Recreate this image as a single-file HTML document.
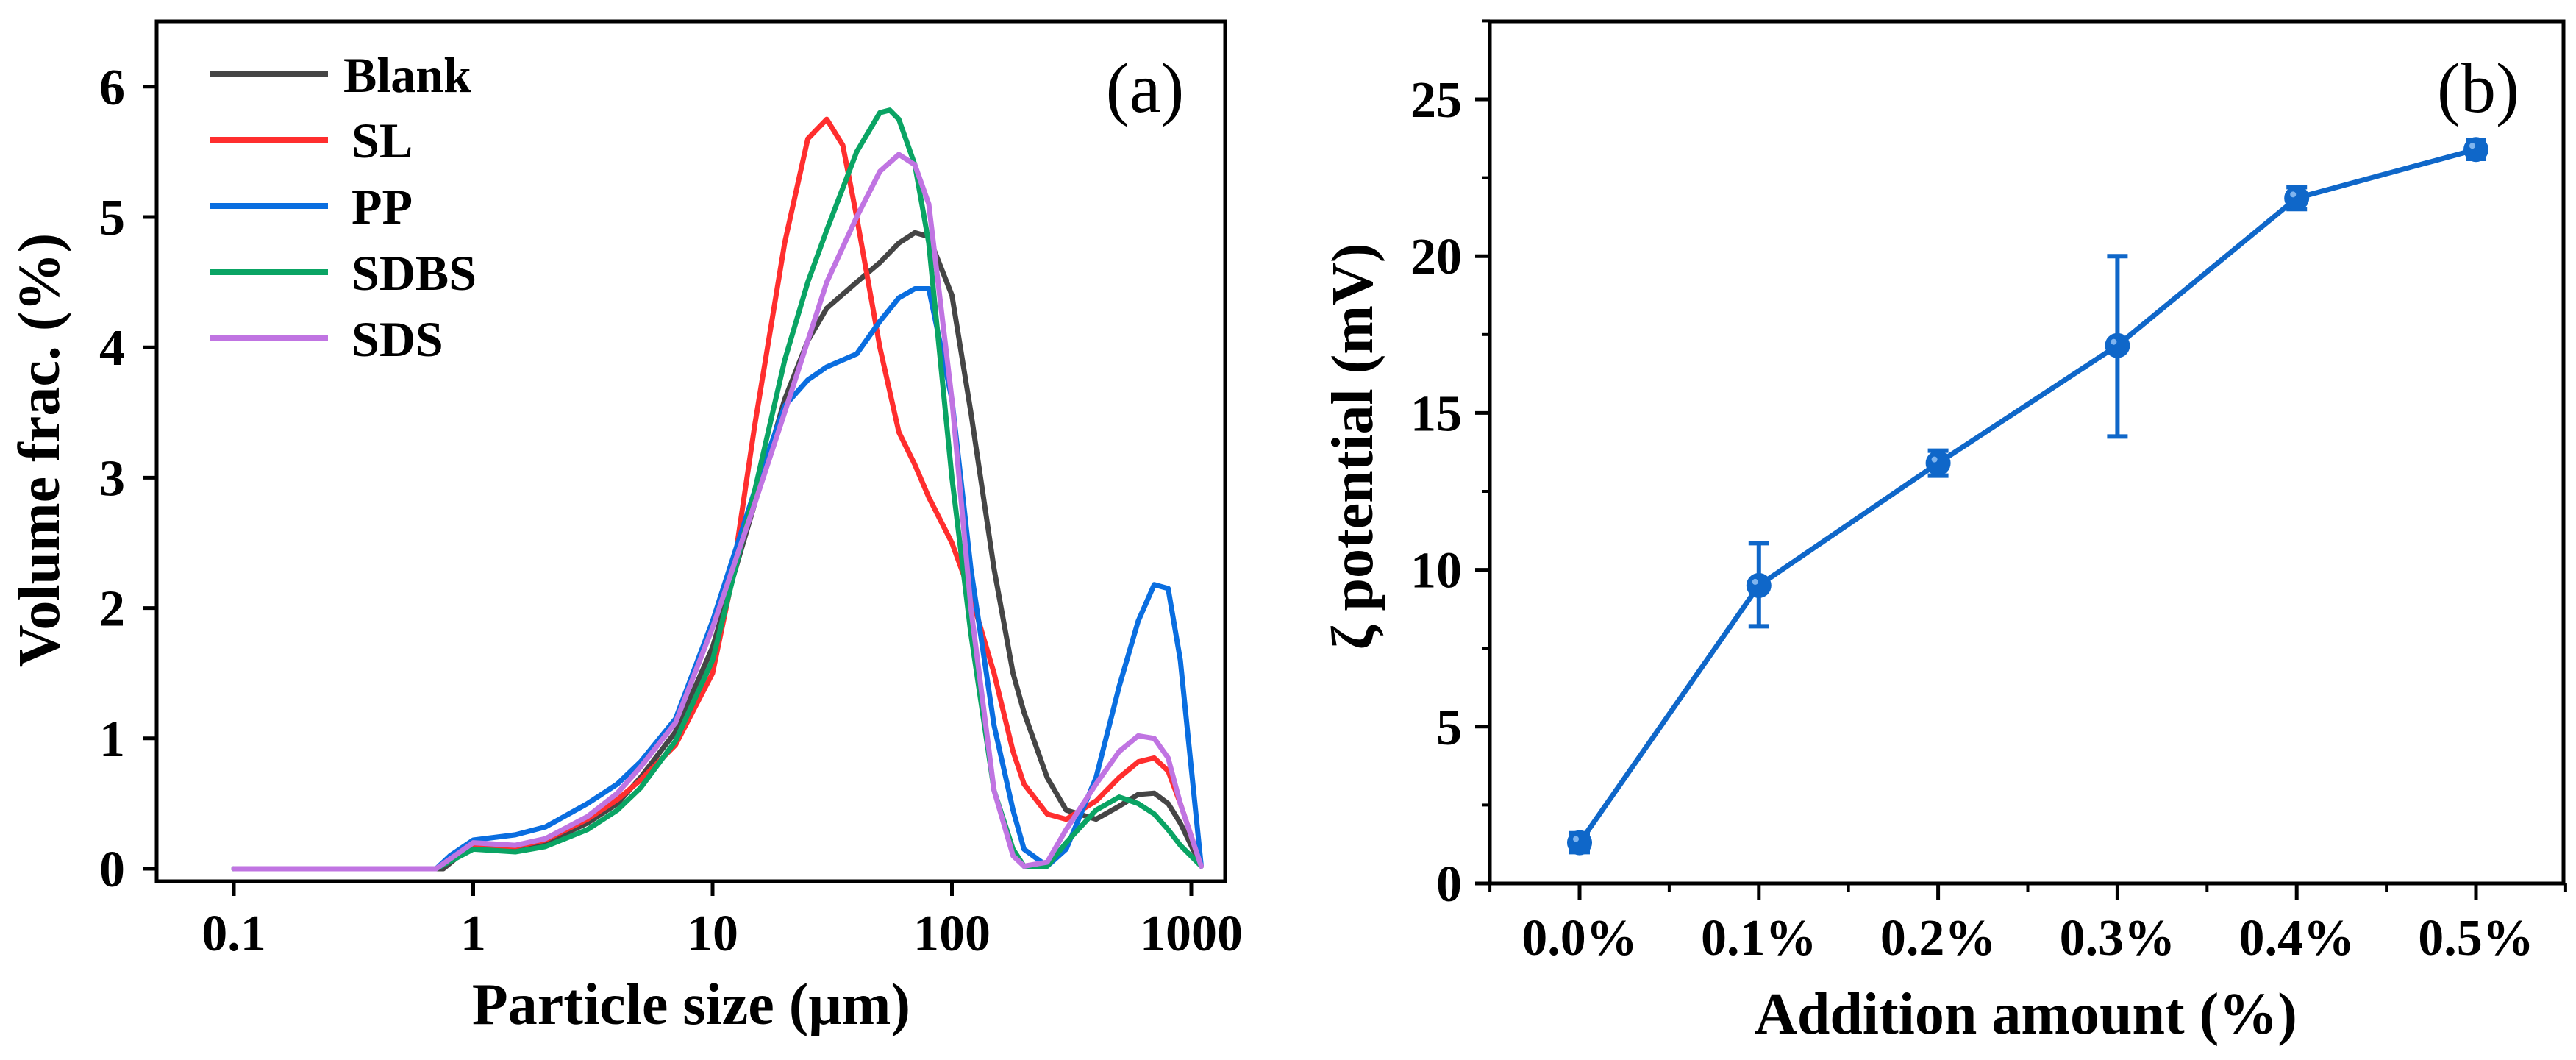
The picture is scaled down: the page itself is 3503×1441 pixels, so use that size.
<!DOCTYPE html>
<html><head><meta charset="utf-8"><style>
html,body{margin:0;padding:0;background:#fff;}
svg{display:block;font-family:"Liberation Serif","DejaVu Serif",serif;}
</style></head><body>
<svg id="fig" width="3503" height="1441" viewBox="0 0 3503 1441" xmlns="http://www.w3.org/2000/svg">
<rect width="3503" height="1441" fill="#fff"/>
<g id="pa"></g>
<g id="pb"></g>
</svg>
<script>
// ---- Panel (a) data ----
const sizesBlank = [0.1,0.75,0.9,1,1.5,2,3,4,5,7,10,15,20,25,30,40,50,60,70,80,100,120,150,180,200,250,300,400,500,600,700,800,900,1100];
const valsBlank  = [0,0,0.12,0.15,0.15,0.2,0.35,0.5,0.7,1.05,1.7,2.8,3.6,4.05,4.3,4.5,4.65,4.8,4.88,4.85,4.4,3.5,2.3,1.5,1.2,0.7,0.45,0.38,0.48,0.57,0.58,0.5,0.35,0.02];
const sizesSL = [0.1,0.7,1,1.5,2,3,4,5,7,10,12,15,20,25,30,35,40,50,60,70,80,100,120,150,180,200,250,300,400,500,600,700,800,900,1100];
const valsSL  = [0,0,0.18,0.17,0.22,0.38,0.53,0.68,0.95,1.5,2.2,3.4,4.8,5.6,5.75,5.55,5.0,4.0,3.35,3.1,2.85,2.5,2.1,1.5,0.9,0.65,0.42,0.38,0.52,0.7,0.82,0.85,0.75,0.5,0.02];
const sizesPP = [0.1,0.7,0.8,1,1.5,2,3,4,5,7,10,15,20,25,30,40,50,60,70,80,100,120,150,180,200,250,300,400,500,600,700,800,900,1100];
const valsPP  = [0,0,0.1,0.22,0.26,0.32,0.5,0.65,0.82,1.15,1.9,2.9,3.55,3.75,3.85,3.95,4.2,4.38,4.45,4.45,3.6,2.3,1.1,0.45,0.15,0.02,0.15,0.7,1.4,1.9,2.18,2.15,1.6,0.02];
const sizesSDBS = [0.1,0.7,1,1.5,2,3,4,5,7,10,15,20,25,30,40,50,55,60,70,80,100,120,150,180,200,250,300,400,500,600,700,800,900,1100];
const valsSDBS  = [0,0,0.15,0.13,0.17,0.3,0.45,0.62,0.98,1.6,2.9,3.9,4.5,4.9,5.5,5.8,5.82,5.75,5.4,4.8,3.0,1.8,0.6,0.15,0.02,0.02,0.2,0.45,0.55,0.5,0.42,0.3,0.18,0.02];
const sizesSDS = [0.1,0.7,1,1.5,2,3,4,5,7,10,15,20,25,30,40,50,60,70,80,100,120,150,180,200,250,300,400,500,600,700,800,900,1100];
const valsSDS  = [0,0,0.2,0.18,0.23,0.4,0.58,0.78,1.12,1.85,2.8,3.5,4.05,4.5,5.0,5.35,5.48,5.4,5.1,3.6,2.0,0.6,0.1,0.02,0.05,0.3,0.65,0.9,1.02,1.0,0.85,0.5,0.02];
const seriesNames = ["Blank","SL","PP","SDBS","SDS"];
const seriesColors = ["#454545","#ff2e2e","#0a6ee0","#0aa464","#c074e2"];
const xTicksA = [0.1,1,10,100,1000];
const xTickLabelsA = ["0.1","1","10","100","1000"];
const yTicksA = [0,1,2,3,4,5,6];

// ---- Panel (b) data ----
const catsB = ["0.0%","0.1%","0.2%","0.3%","0.4%","0.5%"];
const zetaB = [1.3,9.5,13.4,17.15,21.85,23.4];
const errLoB = [1.0,8.2,13.0,14.25,21.5,23.1];
const errHiB = [1.6,10.85,13.8,20.0,22.2,23.7];
const yTicksB = [0,5,10,15,20,25];

const NS="http://www.w3.org/2000/svg";
function mk(parent,tag,attrs,text){const e=document.createElementNS(NS,tag);for(const k in attrs)e.setAttribute(k,attrs[k]);if(text!==undefined)e.textContent=text;parent.appendChild(e);return e;}

// ===== Panel A =====
const pa=document.getElementById('pa');
const A={l:213,r:1666,t:29,b:1198};
const xA=v=>318+(Math.log10(v)+1)*325.5;
const yA=v=>1181-v*177.2;
const series=[[sizesBlank,valsBlank],[sizesSL,valsSL],[sizesPP,valsPP],[sizesSDBS,valsSDBS],[sizesSDS,valsSDS]];
series.forEach((s,i)=>{
  const pts=s[0].map((x,j)=>xA(x).toFixed(1)+","+yA(s[1][j]).toFixed(1)).join(" ");
  const pl=mk(pa,'polyline',{points:pts,fill:'none',stroke:seriesColors[i],'stroke-width':7,'stroke-linejoin':'round','stroke-linecap':'round'});
  
  
});
const fa=mk(pa,'rect',{x:A.l,y:A.t,width:A.r-A.l,height:A.b-A.t,fill:'none',stroke:'#000','stroke-width':5});


xTicksA.forEach((v,i)=>{
  const x=xA(v);
  const t=mk(pa,'line',{x1:x,y1:A.b,x2:x,y2:A.b+20,stroke:'#000','stroke-width':5});
  
  
  const lb=mk(pa,'text',{x:x,y:1292,'font-size':70,'font-weight':'bold','text-anchor':'middle'},xTickLabelsA[i]);
  
  
});
yTicksA.forEach(v=>{
  const y=yA(v);
  const t=mk(pa,'line',{x1:A.l,y1:y,x2:A.l-18,y2:y,stroke:'#000','stroke-width':5});
  
  
  const lb=mk(pa,'text',{x:170,y:y+24,'font-size':70,'font-weight':'bold','text-anchor':'end'},String(v));
  
  
});
const xta=mk(pa,'text',{x:940,y:1392,'font-size':80,'font-weight':'bold','text-anchor':'middle'},"Particle size (μm)");


const yta=mk(pa,'text',{x:0,y:0,'font-size':80,'font-weight':'bold','text-anchor':'middle',transform:'translate(80,612) rotate(-90)'},"Volume frac. (%)");


const legY=[101,190,280,370,460];
seriesNames.forEach((n,i)=>{
  const g=mk(pa,'g',{});
  
  
  mk(g,'line',{x1:285,y1:legY[i],x2:446,y2:legY[i],stroke:seriesColors[i],'stroke-width':8});
  mk(g,'text',{x:i===0?467:478,y:legY[i]+24,'font-size':68,'font-weight':'bold'},n);
});
const la=mk(pa,'text',{x:1557,y:152,'font-size':96,'text-anchor':'middle'},"(a)");



// ===== Panel B =====
const pb=document.getElementById('pb');
const B={l:2026,r:3486,t:29,b:1201};
const xB=i=>2148+i*243.8;
const yB=v=>1201-v*42.64;
const fb=mk(pb,'rect',{x:B.l,y:B.t,width:B.r-B.l,height:B.b-B.t,fill:'none',stroke:'#000','stroke-width':5});


catsB.forEach((c,i)=>{
  const x=xB(i);
  const t=mk(pb,'line',{x1:x,y1:B.b,x2:x,y2:B.b+22,stroke:'#000','stroke-width':5});
  
  
  const m=mk(pb,'line',{x1:x+121.9,y1:B.b,x2:x+121.9,y2:B.b+11,stroke:'#000','stroke-width':4});
  
  
  const lb=mk(pb,'text',{x:x,y:1298,'font-size':70,'font-weight':'bold','text-anchor':'middle'},c);
  
  
});
const m0=mk(pb,'line',{x1:xB(0)-121.9,y1:B.b,x2:xB(0)-121.9,y2:B.b+11,stroke:'#000','stroke-width':4});


yTicksB.forEach(v=>{
  const y=yB(v);
  const t=mk(pb,'line',{x1:B.l,y1:y,x2:B.l-20,y2:y,stroke:'#000','stroke-width':5});
  
  
  const m=mk(pb,'line',{x1:B.l,y1:yB(v+2.5),x2:B.l-11,y2:yB(v+2.5),stroke:'#000','stroke-width':4});
  
  
  const lb=mk(pb,'text',{x:1988,y:y+24,'font-size':70,'font-weight':'bold','text-anchor':'end'},String(v));
  
  
});
const col="#0f67c9";
const pts=zetaB.map((v,i)=>xB(i).toFixed(1)+","+yB(v).toFixed(1)).join(" ");
const lineB=mk(pb,'polyline',{points:pts,fill:'none',stroke:col,'stroke-width':7,'stroke-linejoin':'round'});


zetaB.forEach((v,i)=>{
  const x=xB(i);
  const eb=mk(pb,'path',{d:`M${x},${yB(errLoB[i])}V${yB(errHiB[i])}M${x-14},${yB(errLoB[i])}H${x+14}M${x-14},${yB(errHiB[i])}H${x+14}`,stroke:col,'stroke-width':6,fill:'none'});
  
  
  const c=mk(pb,'circle',{cx:x,cy:yB(v),r:17,fill:col});
  
  
  mk(pb,'circle',{cx:x-5,cy:yB(v)-5,r:4,fill:'#7fb4ee'});
});
const xtb=mk(pb,'text',{x:2755,y:1405,'font-size':80,'font-weight':'bold','text-anchor':'middle'},"Addition amount (%)");


const ytb=mk(pb,'text',{x:0,y:0,'font-size':80,'font-weight':'bold','text-anchor':'middle',transform:'translate(1866,607) rotate(-90)'},"ζ potential (mV)");


const lbB=mk(pb,'text',{x:3370,y:152,'font-size':96,'text-anchor':'middle'},"(b)");


</script>
</body></html>
